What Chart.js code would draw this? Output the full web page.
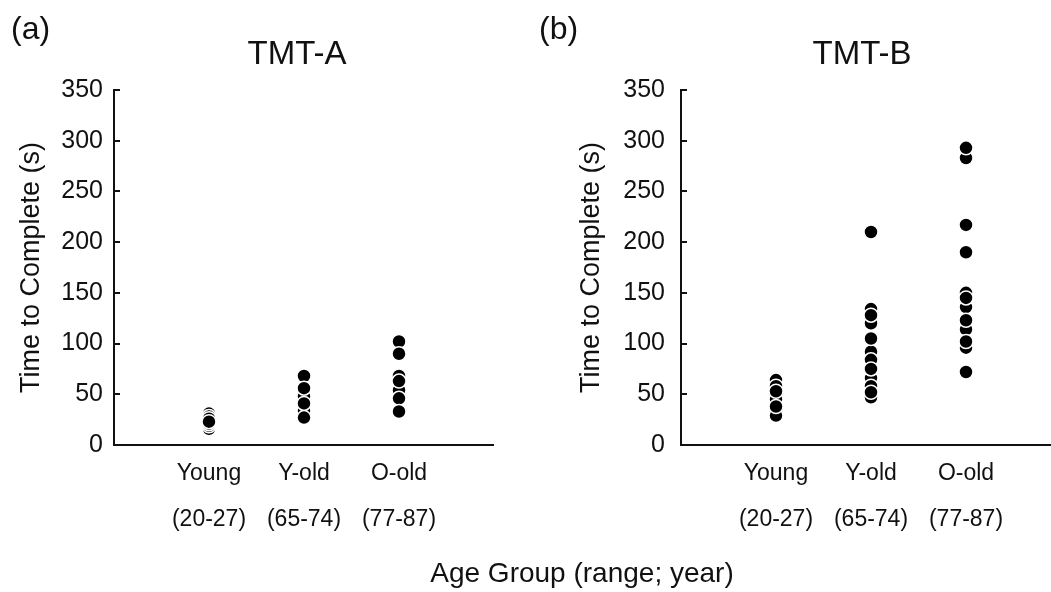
<!DOCTYPE html>
<html>
<head>
<meta charset="utf-8">
<script src="https://cdn.jsdelivr.net/npm/chart.js@4.4.1/dist/chart.umd.min.js"></script>
<style>
  html, body { margin: 0; padding: 0; background: #fff; overflow: hidden; }
  body { width: 1051px; height: 592px; position: relative; font-family: "Liberation Sans", Arial, sans-serif; color: #111; }
  canvas { position: absolute; top: 0; }
  .txt { position: absolute; white-space: nowrap; line-height: 1; }
  .centro { transform: translateX(-50%); }
</style>
</head>
<body>
<canvas id="panel-a" width="494" height="592" style="left:0px"></canvas>
<canvas id="panel-b" width="494" height="592" style="left:567px"></canvas>

<div class="txt" style="left:11px;top:12px;font-size:32px">(a)</div>
<div class="txt" style="left:539px;top:12px;font-size:32px">(b)</div>
<div class="txt centro" style="left:297px;top:36px;font-size:33px">TMT-A</div>
<div class="txt centro" style="left:862px;top:36px;font-size:33px">TMT-B</div>
<div class="txt centro" style="left:582px;top:559px;font-size:28px">Age Group (range; year)</div>

<script>
// Categorias del eje x (dos lineas por grupo)
const grupos = ['Young', 'Y-old', 'O-old'];
const rangos = ['(20-27)', '(65-74)', '(77-87)'];
const yTicks = [0, 50, 100, 150, 200, 250, 300, 350];

// TMT-A: tiempo en segundos por participante (orden = orden de dibujo)
const tmtA_young = [31, 28, 26, 16, 19, 21, 23];
const tmtA_yold = [48, 34, 68, 56, 41, 27];
const tmtA_oold = [68, 54, 102, 90, 63, 46, 33];

// TMT-B
const tmtB_young = [64, 58, 45, 33, 29, 53, 38];
const tmtB_yold = [134, 120, 92, 84, 66, 58, 47, 210, 128, 105, 75, 52];
const tmtB_oold = [283, 150, 136, 114, 96, 293, 217, 190, 145, 123, 102, 72];

const fuente = '"Liberation Sans", Arial, sans-serif';
const negro = '#111';

function puntos(series) {
    const out = [];
    series.forEach((vals, i) => {
        vals.forEach(v => out.push({ x: i + 1, y: v }));
    });
    return out;
}

// Marcas del eje y hacia dentro del area
const tickInterior = {
    id: 'tickInterior',
    afterDraw(chart) {
        const y = chart.scales.y;
        const ctx = chart.ctx;
        ctx.save();
        ctx.strokeStyle = negro;
        ctx.lineWidth = 2;
        y.ticks.forEach(t => {
            const py = Math.round(y.getPixelForValue(t.value));
            ctx.beginPath();
            ctx.moveTo(y.right, py);
            ctx.lineTo(y.right + 6, py);
            ctx.stroke();
        });
        ctx.restore();
    }
};

function crearPanel(id, series, tituloPad, tickPad) {
    return new Chart(document.getElementById(id), {
        type: 'scatter',
        data: {
            datasets: [{
                data: puntos(series),
                backgroundColor: '#000',
                borderColor: '#fff',
                borderWidth: 1.5,
                pointRadius: 7,
                pointHoverRadius: 7
            }]
        },
        options: {
            responsive: false,
            animation: false,
            devicePixelRatio: 1,
            layout: { autoPadding: false, padding: { top: 90, left: 0, right: 0, bottom: 0 } },
            plugins: { legend: { display: false }, tooltip: { enabled: false } },
            scales: {
                x: {
                    type: 'linear',
                    min: 0,
                    max: 4,
                    afterFit(s) { s.height = 147; },
                    afterBuildTicks(s) { s.ticks = grupos.map((g, i) => ({ value: i + 1 })); },
                    grid: { display: false, drawTicks: false },
                    border: { color: negro, width: 2 },
                    ticks: {
                        autoSkip: false,
                        maxRotation: 0,
                        padding: 6,
                        color: negro,
                        font: { family: fuente, size: 23, lineHeight: '46px' },
                        callback: (v, i) => [grupos[i], rangos[i]]
                    }
                },
                y: {
                    min: 0,
                    max: 350,
                    afterFit(s) { s.width = 114; },
                    afterBuildTicks(s) { s.ticks = yTicks.map(v => ({ value: v })); },
                    grid: { drawOnChartArea: false, drawTicks: false },
                    border: { color: negro, width: 2 },
                    ticks: {
                        padding: tickPad,
                        color: negro,
                        font: { family: fuente, size: 25 }
                    },
                    title: {
                        display: true,
                        text: 'Time to Complete (s)',
                        color: negro,
                        font: { family: fuente, size: 27 },
                        padding: { top: tituloPad, bottom: 0 }
                    }
                }
            }
        },
        plugins: [tickInterior]
    });
}

crearPanel('panel-a', [tmtA_young, tmtA_yold, tmtA_oold], 15, 11);
crearPanel('panel-b', [tmtB_young, tmtB_yold, tmtB_oold], 8, 16);
</script>
</body>
</html>
